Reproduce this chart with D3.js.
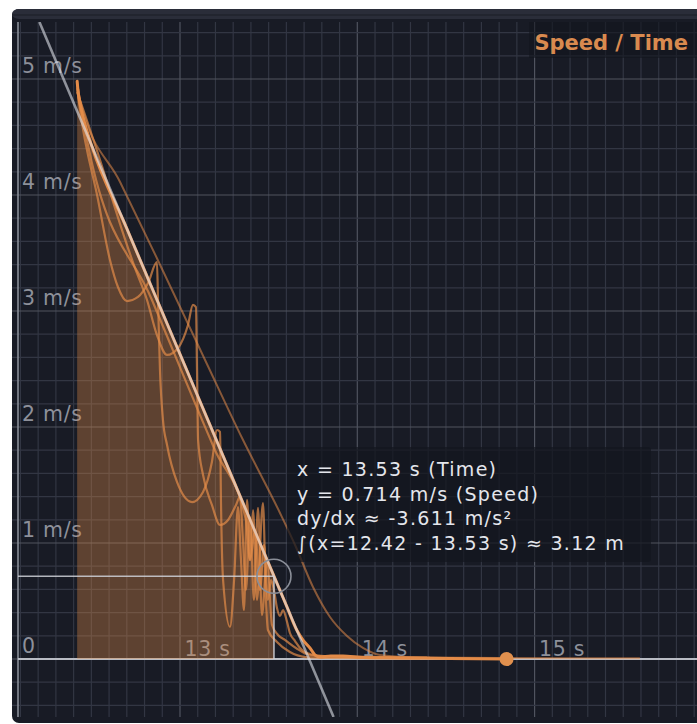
<!DOCTYPE html>
<html>
<head>
<meta charset="utf-8">
<script src="https://cdn.jsdelivr.net/npm/d3@7"></script>
<style>
  html, body { margin: 0; padding: 0; background: #ffffff; }
  svg { display: block; }
</style>
</head>
<body>
<svg id="chart" width="697" height="724"></svg>
<script>
// ---- axis ticks ----
const timeTicks = [13, 14, 15];
const timeTickLabels = ["13 s", "14 s", "15 s"];
const speedTicks = [0, 1, 2, 3, 4, 5];
const speedTickLabels = ["0", "1 m/s", "2 m/s", "3 m/s", "4 m/s", "5 m/s"];

// ---- main speed trace (s, m/s) ----
const mainTime  = [12.42, 12.426, 12.437, 12.452, 12.5, 12.7, 12.9, 13.1, 13.3, 13.53, 13.6, 13.66, 13.695, 13.733, 13.762, 13.79, 13.85, 13.92, 14.03, 14.24, 14.52, 14.842];
const mainSpeed = [4.98, 4.88, 4.78, 4.68, 4.433, 3.711, 2.989, 2.267, 1.545, 0.714, 0.461, 0.245, 0.16, 0.095, 0.034, 0.017, 0.026, 0.026, 0.013, 0.009, 0.004, 0];

// ---- earlier runs ----
const runATime  = [12.42, 12.436, 12.662, 12.870, 13.152, 13.350, 13.564, 13.649, 13.750, 13.846, 13.942, 14.032, 14.128, 14.354, 14.805, 15.594];
const runASpeed = [4.974, 4.819, 4.112, 3.455, 2.543, 1.905, 1.259, 0.983, 0.621, 0.362, 0.198, 0.095, 0.034, 0.013, 0.009, 0.006];

const runBTime  = [12.42, 12.436, 12.538, 12.605, 12.650, 12.701, 12.763, 12.820, 12.870, 12.876, 12.887, 12.904, 12.927, 12.983, 13.068, 13.130, 13.180, 13.209, 13.226, 13.231, 13.243, 13.282, 13.305, 13.327, 13.344, 13.361, 13.378, 13.395, 13.412, 13.434, 13.468, 13.485, 13.496, 13.547, 13.620, 13.705, 13.846, 14.354];
const runBSpeed = [4.922, 4.733, 3.957, 3.440, 3.207, 3.086, 3.121, 3.241, 3.422, 3.095, 2.491, 2.060, 1.845, 1.526, 1.353, 1.440, 1.698, 1.974, 1.957, 1.371, 0.681, 0.276, 0.681, 1.310, 0.853, 0.422, 1.371, 0.853, 1.284, 0.509, 1.345, 0.509, 0.250, 0.147, 0.060, 0.017, 0.009, 0.004];

const runCTime  = [12.42, 12.549, 12.673, 12.746, 12.814, 12.870, 12.927, 12.989, 13.045, 13.073, 13.090, 13.096, 13.102, 13.130, 13.180, 13.226, 13.271, 13.316, 13.338, 13.355, 13.372, 13.395, 13.417, 13.440, 13.462, 13.491, 13.519, 13.553, 13.592, 13.654, 13.733, 13.959, 14.410];
const runCSpeed = [4.888, 4.302, 3.698, 3.371, 3.095, 2.793, 2.621, 2.681, 2.879, 3.052, 3.034, 2.491, 1.888, 1.586, 1.328, 1.155, 1.198, 1.328, 1.397, 1.026, 0.595, 1.224, 0.509, 1.302, 0.379, 0.853, 0.293, 0.207, 0.164, 0.095, 0.034, 0.017, 0.009];

const runDTime  = [12.42, 12.487, 12.842, 13.197, 13.372, 13.395, 13.423, 13.451, 13.474, 13.496, 13.513, 13.530, 13.547, 13.564, 13.581, 13.604, 13.620, 13.649, 13.677, 13.716, 13.773, 13.902, 14.128, 14.393];
const runDSpeed = [4.957, 4.388, 3.095, 1.802, 1.198, 0.853, 1.112, 0.595, 0.983, 0.509, 0.681, 0.595, 0.440, 0.371, 0.422, 0.319, 0.224, 0.155, 0.095, 0.052, 0.030, 0.022, 0.017, 0.013];

// ---- cursor readout ----
const cursorTime = 13.53;
const cursorSpeed = 0.714;
const cursorSlope = -3.611;
const integralFrom = 12.42;
const tooltipLines = [
  "x = 13.53 s (Time)",
  "y = 0.714 m/s (Speed)",
  "dy/dx \u2248 -3.611 m/s\u00B2",
  "\u222B(x=12.42 - 13.53 s) \u2248 3.12 m"
];
const chartTitle = "Speed / Time";

// ---- colours ----
const BG = "#181b25";
const ORANGE = "#e38b48";
const GRID_MINOR = "#323643";
const GRID_MAJOR = "#50545f";

const svg = d3.select("#chart");
const plot = { left: 12, right: 697, top: 22, bottom: 717 };

const x = d3.scaleLinear().domain([12.0863, 15.916]).range([18, 697]);
const y = d3.scaleLinear().domain([-0.5, 5.4914]).range([717, 22]);

// panel
svg.append("rect").attr("x", 12).attr("y", 9).attr("width", 700).attr("height", 714)
  .attr("rx", 7).attr("fill", BG);
svg.append("rect").attr("x", 12).attr("y", 9).attr("width", 700).attr("height", 10)
  .attr("rx", 7).attr("fill", "#2a2d39");
svg.append("rect").attr("x", 12).attr("y", 14).attr("width", 700).attr("height", 2)
  .attr("fill", "#22252f");

svg.append("defs").append("clipPath").attr("id", "plotClip")
  .append("rect").attr("x", plot.left).attr("y", plot.top)
  .attr("width", plot.right - plot.left).attr("height", plot.bottom - plot.top);

const g = svg.append("g").attr("clip-path", "url(#plotClip)");

// grid
const tGrid = d3.range(121, 160).map(i => ({ v: i / 10, major: i % 10 === 0 }));
const sGrid = d3.range(-2, 28).map(i => ({ v: i / 5, major: i % 5 === 0 }));

g.append("g").selectAll("line").data(tGrid).join("line")
  .attr("x1", d => x(d.v)).attr("x2", d => x(d.v))
  .attr("y1", plot.top).attr("y2", plot.bottom)
  .attr("stroke", d => d.major ? GRID_MAJOR : GRID_MINOR).attr("stroke-width", 1.2);

g.append("g").selectAll("line").data(sGrid).join("line")
  .attr("x1", plot.left).attr("x2", plot.right)
  .attr("y1", d => y(d.v)).attr("y2", d => y(d.v))
  .attr("stroke", d => d.major ? GRID_MAJOR : GRID_MINOR).attr("stroke-width", 1.2);

// axes
g.append("line").attr("x1", x.range()[0]).attr("x2", x.range()[0])
  .attr("y1", plot.top).attr("y2", plot.bottom)
  .attr("stroke", "#8a8e98").attr("stroke-width", 1.6);
g.append("line").attr("x1", x.range()[0]).attr("x2", plot.right)
  .attr("y1", y(0)).attr("y2", y(0))
  .attr("stroke", "#b9bcc4").attr("stroke-width", 2);

// tick labels
const tickFont = "'DejaVu Sans', sans-serif";
g.append("g").selectAll("text").data(speedTicks).join("text")
  .attr("x", 22).attr("y", d => y(d) - 6)
  .attr("font-family", tickFont).attr("font-size", 20.5).attr("letter-spacing", 0.7)
  .attr("fill", "#8d909a")
  .text((d, i) => speedTickLabels[i]);
g.append("g").selectAll("text").data(timeTicks).join("text")
  .attr("x", d => x(d) + 4.5).attr("y", y(0) - 3.5)
  .attr("font-family", tickFont).attr("font-size", 20.5).attr("letter-spacing", 0.7)
  .attr("fill", "#8d909a")
  .text((d, i) => timeTickLabels[i]);

// area under the main trace between the integral bounds
const mainPts = mainTime.map((t, i) => [t, mainSpeed[i]]);
const areaPts = mainPts.filter(p => p[0] >= integralFrom && p[0] <= cursorTime);
g.append("path")
  .datum(areaPts)
  .attr("d", d3.area().curve(d3.curveMonotoneX)
    .x(d => x(d[0])).y0(y(0)).y1(d => y(d[1])))
  .attr("fill", ORANGE).attr("fill-opacity", 0.35);

// earlier runs
const line = d3.line().curve(d3.curveMonotoneX).x(d => x(d[0])).y(d => y(d[1]));
const runs = [
  { t: runATime, s: runASpeed, op: 0.55, w: 2 },
  { t: runBTime, s: runBSpeed, op: 0.7, w: 2.2 },
  { t: runCTime, s: runCSpeed, op: 0.7, w: 2.2 },
  { t: runDTime, s: runDSpeed, op: 0.7, w: 2.2 }
];
runs.forEach(r => {
  g.append("path")
    .datum(r.t.map((t, i) => [t, r.s[i]]))
    .attr("d", line)
    .attr("fill", "none").attr("stroke", ORANGE)
    .attr("stroke-opacity", r.op).attr("stroke-width", r.w)
    .attr("stroke-linejoin", "round");
});

// main trace
g.append("path").datum(mainPts).attr("d", line)
  .attr("fill", "none").attr("stroke", ORANGE).attr("stroke-width", 3)
  .attr("stroke-linejoin", "round").attr("stroke-linecap", "round");

// tangent at the cursor
const [sLo, sHi] = y.domain();
const tTop = cursorTime + (sHi - cursorSpeed) / cursorSlope;
const tBot = cursorTime + (sLo - cursorSpeed) / cursorSlope;
g.append("line")
  .attr("x1", x(tTop)).attr("y1", y(sHi)).attr("x2", x(tBot)).attr("y2", y(sLo))
  .attr("stroke", "#e6e8f0").attr("stroke-opacity", 0.58).attr("stroke-width", 2.6);

// crosshair
g.append("line").attr("x1", x.range()[0]).attr("x2", x(cursorTime))
  .attr("y1", y(cursorSpeed)).attr("y2", y(cursorSpeed))
  .attr("stroke", "#cfd1d8").attr("stroke-opacity", 0.85).attr("stroke-width", 1.6);
g.append("line").attr("x1", x(cursorTime)).attr("x2", x(cursorTime))
  .attr("y1", y(cursorSpeed)).attr("y2", y(0))
  .attr("stroke", "#cfd1d8").attr("stroke-opacity", 0.85).attr("stroke-width", 1.6);
g.append("circle").attr("cx", x(cursorTime)).attr("cy", y(cursorSpeed)).attr("r", 17)
  .attr("fill", "none").attr("stroke", "#8a8e98").attr("stroke-width", 1.6);

// end marker of the main trace
g.append("circle")
  .attr("cx", x(mainTime[mainTime.length - 1])).attr("cy", y(mainSpeed[mainSpeed.length - 1]))
  .attr("r", 7).attr("fill", "#e0904e");

// readout box
g.append("rect").attr("x", 287).attr("y", 447).attr("width", 364).attr("height", 115)
  .attr("rx", 3).attr("fill", "#13161e").attr("fill-opacity", 0.72);
g.append("g").selectAll("text").data(tooltipLines).join("text")
  .attr("x", 297).attr("y", (d, i) => 476 + i * 24.5)
  .attr("font-family", tickFont).attr("font-size", 19).attr("letter-spacing", 1.3)
  .attr("fill", "#e4e6ec")
  .text(d => d);

// title
g.append("rect").attr("x", 529).attr("y", 22).attr("width", 168).attr("height", 36)
  .attr("fill", "#13161e").attr("fill-opacity", 0.6);
g.append("text").attr("x", 688).attr("y", 50).attr("text-anchor", "end")
  .attr("font-family", tickFont).attr("font-weight", "bold").attr("font-size", 21)
  .attr("fill", "#d98a4f")
  .text(chartTitle);
</script>
</body>
</html>
